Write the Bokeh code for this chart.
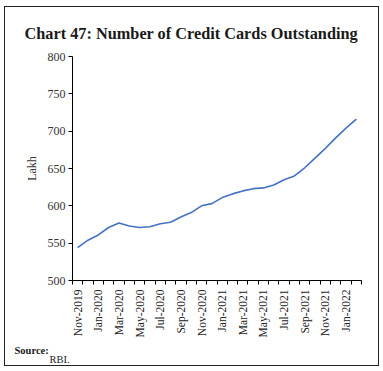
import math
from bokeh.plotting import figure
from bokeh.models import FixedTicker, Range1d, Title
from bokeh.embed import file_html
from bokeh.resources import INLINE

months = ["Nov-2019", "Dec-2019", "Jan-2020", "Feb-2020", "Mar-2020", "Apr-2020", "May-2020",
          "Jun-2020", "Jul-2020", "Aug-2020", "Sep-2020", "Oct-2020", "Nov-2020", "Dec-2020",
          "Jan-2021", "Feb-2021", "Mar-2021", "Apr-2021", "May-2021", "Jun-2021", "Jul-2021",
          "Aug-2021", "Sep-2021", "Oct-2021", "Nov-2021", "Dec-2021", "Jan-2022", "Feb-2022"]
cards = [544, 554, 561, 571, 577, 573, 571, 572, 576, 578, 585, 591, 600, 603,
         611, 616, 620, 623, 624, 628, 635, 640, 651, 664, 677, 691, 704, 716]
y_ticks = [500, 550, 600, 650, 700, 750, 800]

SERIF = "Liberation Serif"
W, H = 375, 360

idx = list(range(len(months)))
p = figure(width=W, height=H, output_backend="svg", toolbar_location=None,
           x_range=Range1d(-0.5, len(months) - 0.5), y_range=Range1d(500, 800),
           min_border_left=67, min_border_right=19, min_border_top=47, min_border_bottom=87)
p.line(idx, cards, line_color="#4472C4", line_width=1.6)

p.title.text = "Chart 47: Number of Credit Cards Outstanding"
p.title.align = "left"
p.title.offset = -48
p.title.text_font = SERIF
p.title.text_font_style = "bold"
p.title.text_font_size = "16.3px"
p.title.text_color = "#1a1a1a"
p.title.standoff = 28

p.outline_line_color = None
p.xgrid.grid_line_color = None
p.ygrid.grid_line_color = None
p.background_fill_color = "white"
p.border_fill_color = "white"

xa = p.xaxis[0]
major = [i for i in idx if i % 2 == 0]
xa.ticker = FixedTicker(ticks=major, minor_ticks=[i - 0.5 for i in range(len(months) + 1)])
xa.major_label_overrides = {i: months[i] for i in major}
xa.major_label_orientation = math.pi / 2
xa.major_tick_out = 0
xa.major_tick_in = 0
xa.minor_tick_out = 4
xa.minor_tick_in = 0
xa.minor_tick_line_color = "black"
xa.axis_line_color = "black"
xa.major_label_text_font = SERIF
xa.major_label_text_font_size = "11.5px"
xa.major_label_text_color = "#222222"
xa.major_label_standoff = 5

ya = p.yaxis[0]
ya.ticker = FixedTicker(ticks=y_ticks)
ya.minor_tick_line_color = None
ya.major_tick_out = 4
ya.major_tick_in = 0
ya.major_tick_line_color = "black"
ya.axis_line_color = "black"
ya.major_label_text_font = SERIF
ya.major_label_text_font_size = "12px"
ya.major_label_text_color = "#333333"
ya.major_label_standoff = 3
ya.axis_label = "Lakh"
ya.axis_label_text_font = SERIF
ya.axis_label_text_font_size = "12px"
ya.axis_label_text_font_style = "normal"
ya.axis_label_text_color = "#333333"
ya.axis_label_standoff = 6

src = Title(text="Source:", align="left", offset=-58, text_font=SERIF,
            text_font_style="bold", text_font_size="10.5px", text_color="#1a1a1a", standoff=5)
p.add_layout(src, "below")
src2 = Title(text="RBI.", align="left", offset=-23, text_font=SERIF,
             text_font_style="normal", text_font_size="10.5px", text_color="#1a1a1a", standoff=-13)
p.add_layout(src2, "below")

p.margin = (6, 4, 5, 4)
p.styles = {"border": "1px solid #222222", "box-sizing": "border-box"}

open("out.html", "w").write(file_html(p, INLINE))
